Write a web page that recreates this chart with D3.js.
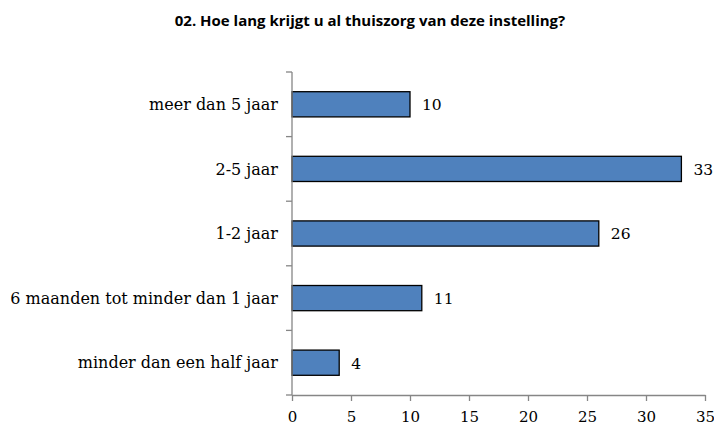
<!DOCTYPE html>
<html>
<head>
<meta charset="utf-8">
<script src="https://cdn.jsdelivr.net/npm/d3@7"></script>
<style>
  body { margin: 0; background: #fff; }
  .cat, .val, .tick text { font-family: "DejaVu Serif", serif; fill: #000; }
  .title { font-family: "Open Sans", sans-serif; font-weight: bold; }
</style>
</head>
<body>
<svg id="chart" width="714" height="430"></svg>
<script>
const title = '02. Hoe lang krijgt u al thuiszorg van deze instelling?';
const categories = [
    'meer dan 5 jaar',
    '2-5 jaar',
    '1-2 jaar',
    '6 maanden tot minder dan 1 jaar',
    'minder dan een half jaar'
];
const values = [10, 33, 26, 11, 4];
const xTicks = [0, 5, 10, 15, 20, 25, 30, 35];

const margins = {l: 292, r: 9, t: 72, b: 35};
const W = 714, H = 430;

const svg = d3.select('#chart');

const xS = d3.scaleLinear().domain([0, 35]).range([margins.l, W - margins.r]);
const yS = d3.scaleBand().domain(categories).range([margins.t, H - margins.b]).paddingInner(0.61).paddingOuter(0.305);

svg.append('text')
  .attr('class', 'title')
  .attr('x', 370).attr('y', 26)
  .attr('text-anchor', 'middle')
  .style('font-size', '15px')
  .text(title);

// bars
svg.append('g').selectAll('rect').data(values)
  .join('rect')
  .attr('x', xS(0))
  .attr('y', (d, i) => yS(categories[i]))
  .attr('width', d => xS(d) - xS(0))
  .attr('height', yS.bandwidth())
  .attr('fill', '#4f81bd')
  .attr('stroke', '#000')
  .attr('stroke-width', 1.3);

// value labels
svg.append('g').selectAll('text').data(values)
  .join('text')
  .attr('class', 'val')
  .attr('x', d => xS(d) + 12)
  .attr('y', (d, i) => yS(categories[i]) + yS.bandwidth() / 2)
  .attr('dy', '0.38em')
  .style('font-size', '15.5px')
  .text(d => d);

// y axis: line + outer ticks at band borders
const yBorders = d3.range(categories.length + 1).map(i => margins.t + i * (H - margins.t - margins.b) / categories.length);
const gy = svg.append('g');
gy.append('line')
  .attr('x1', xS(0)).attr('x2', xS(0))
  .attr('y1', margins.t).attr('y2', H - margins.b)
  .attr('stroke', '#868686').attr('stroke-width', 1.3);
gy.selectAll('.yt').data(yBorders)
  .join('line')
  .attr('class', 'yt')
  .attr('x1', xS(0) - 6).attr('x2', xS(0))
  .attr('y1', d => d).attr('y2', d => d)
  .attr('stroke', '#868686').attr('stroke-width', 1.3);
gy.selectAll('.cat').data(categories)
  .join('text')
  .attr('class', 'cat')
  .attr('x', xS(0) - 14)
  .attr('y', d => yS(d) + yS.bandwidth() / 2)
  .attr('dy', '0.35em')
  .attr('text-anchor', 'end')
  .style('font-size', '16px')
  .text(d => d);

// x axis
const gx = svg.append('g')
  .attr('transform', `translate(0,${H - margins.b})`)
  .call(d3.axisBottom(xS).tickValues(xTicks).tickSize(6).tickSizeOuter(0).tickPadding(10));
gx.select('.domain').attr('stroke', '#868686').attr('stroke-width', 1.3);
gx.selectAll('.tick line').attr('stroke', '#868686').attr('stroke-width', 1.3);
gx.selectAll('.tick text').style('font-size', '15px');
</script>
</body>
</html>
